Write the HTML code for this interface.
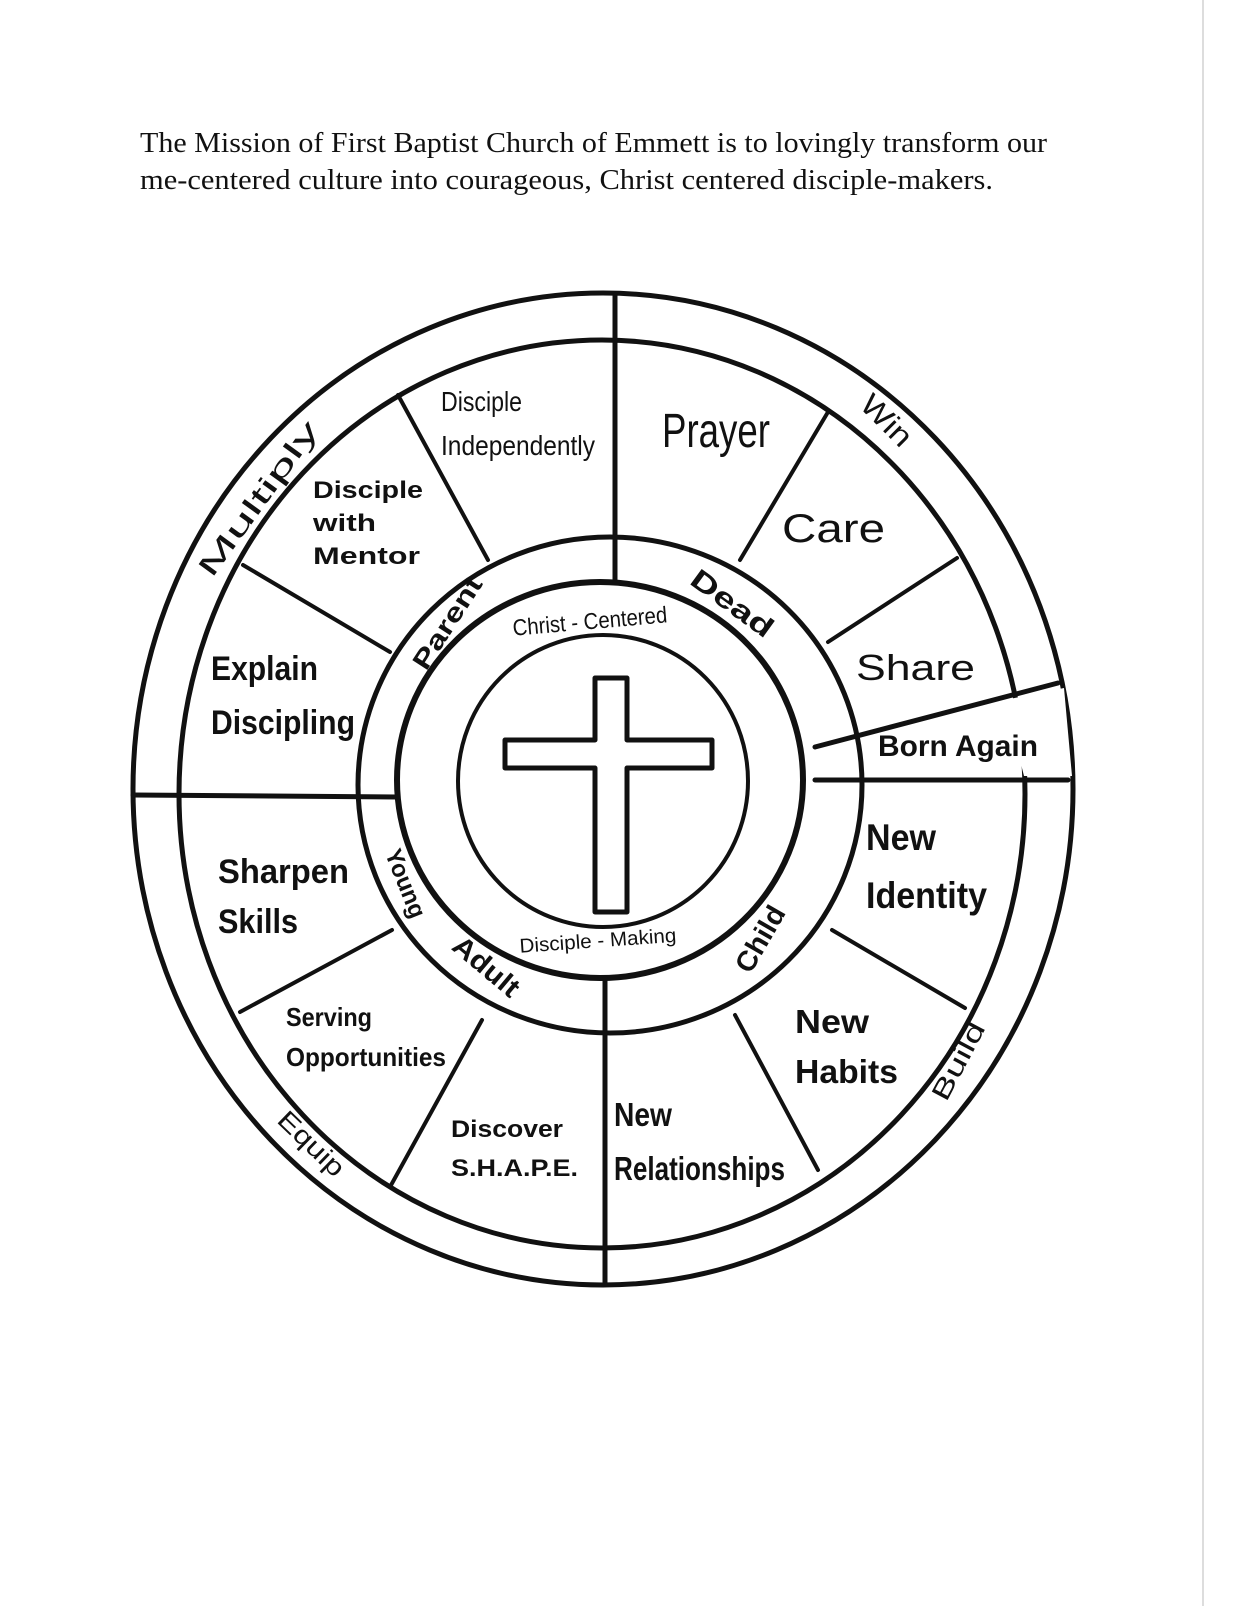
<!DOCTYPE html>
<html><head><meta charset="utf-8"><style>
html,body{margin:0;padding:0;background:#fff;}
svg{display:block;}
.h{font-family:"Liberation Serif",serif;font-size:29px;fill:#111;}
.b{font-family:"Liberation Sans",sans-serif;font-weight:bold;fill:#111;}
.n{font-family:"Liberation Sans",sans-serif;fill:#111;}
</style></head><body>
<svg width="1240" height="1606" viewBox="0 0 1240 1606" xmlns="http://www.w3.org/2000/svg">
<rect width="1240" height="1606" fill="#fff"/>
<line x1="1203" y1="0" x2="1203" y2="1606" stroke="#ddd" stroke-width="2"/>
<text class="h" x="140" y="152" textLength="907" lengthAdjust="spacingAndGlyphs">The Mission of First Baptist Church of Emmett is to lovingly transform our</text>
<text class="h" x="140" y="189" textLength="853" lengthAdjust="spacingAndGlyphs">me-centered culture into courageous, Christ centered disciple-makers.</text>

<g fill="none" stroke="#111" stroke-linecap="round">
<ellipse cx="603" cy="789" rx="470" ry="496" stroke-width="5"/>
<ellipse cx="602" cy="794" rx="423" ry="454" stroke-width="5"/>
<ellipse cx="610" cy="785" rx="252" ry="248" stroke-width="5"/>
<ellipse cx="600" cy="780" rx="203" ry="198" stroke-width="6"/>
<ellipse cx="603" cy="781" rx="145" ry="146" stroke-width="4"/>
<line x1="615" y1="295" x2="615" y2="582" stroke-width="5"/>
<line x1="605" y1="978" x2="605" y2="1284" stroke-width="5"/>
<line x1="133" y1="795" x2="397" y2="797" stroke-width="5"/>
<line x1="398" y1="395" x2="488" y2="560" stroke-width="4"/>
<line x1="243" y1="565" x2="390" y2="652" stroke-width="4"/>
<line x1="240" y1="1012" x2="392" y2="930" stroke-width="4"/>
<line x1="390" y1="1187" x2="482" y2="1020" stroke-width="4"/>
<line x1="818" y1="1170" x2="735" y2="1015" stroke-width="4"/>
<line x1="965" y1="1008" x2="832" y2="930" stroke-width="4"/>
<line x1="828" y1="412" x2="740" y2="560" stroke-width="4"/>
<line x1="957" y1="558" x2="828" y2="642" stroke-width="4"/>
</g>
<polygon points="1005,700 1064,688 1072,776 1024,776" fill="#fff"/>
<g stroke="#111" stroke-width="5" stroke-linecap="round">
<line x1="815" y1="747" x2="1058" y2="683"/>
<line x1="815" y1="780" x2="1068" y2="780"/>
</g>
<path d="M595,678 L627,678 L627,740 L712,740 L712,768 L627,768 L627,912 L595,912 L595,768 L505,768 L505,740 L595,740 Z" fill="#fff" stroke="#111" stroke-width="5" stroke-linejoin="round"/>

<g>
<text class="n" font-size="28" x="441" y="411" textLength="81" lengthAdjust="spacingAndGlyphs">Disciple</text>
<text class="n" font-size="28" x="441" y="455" textLength="154" lengthAdjust="spacingAndGlyphs">Independently</text>
<text class="n" font-size="48" x="662" y="447" textLength="108" lengthAdjust="spacingAndGlyphs">Prayer</text>
<text class="n" font-size="40" x="782" y="542" textLength="103" lengthAdjust="spacingAndGlyphs">Care</text>
<text class="n" font-size="36" x="856" y="680" textLength="119" lengthAdjust="spacingAndGlyphs">Share</text>
<text class="b" font-size="30" x="878" y="756" textLength="160" lengthAdjust="spacingAndGlyphs">Born Again</text>
<text class="b" font-size="24" x="313" y="498" textLength="110" lengthAdjust="spacingAndGlyphs">Disciple</text>
<text class="b" font-size="24" x="313" y="531" textLength="63" lengthAdjust="spacingAndGlyphs">with</text>
<text class="b" font-size="24" x="313" y="564" textLength="107" lengthAdjust="spacingAndGlyphs">Mentor</text>
<text class="b" font-size="34" x="211" y="680" textLength="107" lengthAdjust="spacingAndGlyphs">Explain</text>
<text class="b" font-size="34" x="211" y="734" textLength="144" lengthAdjust="spacingAndGlyphs">Discipling</text>
<text class="b" font-size="34" x="218" y="883" textLength="131" lengthAdjust="spacingAndGlyphs">Sharpen</text>
<text class="b" font-size="34" x="218" y="933" textLength="80" lengthAdjust="spacingAndGlyphs">Skills</text>
<text class="b" font-size="26" x="286" y="1026" textLength="86" lengthAdjust="spacingAndGlyphs">Serving</text>
<text class="b" font-size="26" x="286" y="1066" textLength="160" lengthAdjust="spacingAndGlyphs">Opportunities</text>
<text class="b" font-size="24" x="451" y="1137" textLength="112" lengthAdjust="spacingAndGlyphs">Discover</text>
<text class="b" font-size="24" x="451" y="1176" textLength="127" lengthAdjust="spacingAndGlyphs">S.H.A.P.E.</text>
<text class="b" font-size="33" x="614" y="1126" textLength="58" lengthAdjust="spacingAndGlyphs">New</text>
<text class="b" font-size="33" x="614" y="1180" textLength="171" lengthAdjust="spacingAndGlyphs">Relationships</text>
<text class="b" font-size="33" x="795" y="1033" textLength="74" lengthAdjust="spacingAndGlyphs">New</text>
<text class="b" font-size="33" x="795" y="1083" textLength="103" lengthAdjust="spacingAndGlyphs">Habits</text>
<text class="b" font-size="37" x="866" y="850" textLength="70" lengthAdjust="spacingAndGlyphs">New</text>
<text class="b" font-size="37" x="866" y="908" textLength="121" lengthAdjust="spacingAndGlyphs">Identity</text>
</g>

<g dominant-baseline="middle" text-anchor="middle">
<text class="n" font-size="28" transform="translate(260,500) rotate(-54)" textLength="185" lengthAdjust="spacingAndGlyphs">Multiply</text>
<text class="n" font-size="30" transform="translate(885,422) rotate(45)" textLength="60" lengthAdjust="spacingAndGlyphs">Win</text>
<text class="n" font-size="26" transform="translate(960,1062) rotate(-62)" textLength="85" lengthAdjust="spacingAndGlyphs">Build</text>
<text class="n" font-size="26" transform="translate(310,1145) rotate(44)" textLength="82" lengthAdjust="spacingAndGlyphs">Equip</text>

<text class="b" font-size="26" transform="translate(449,624) rotate(-57)" textLength="105" lengthAdjust="spacingAndGlyphs">Parent</text>
<text class="b" font-size="28" transform="translate(731,605) rotate(36)" textLength="95" lengthAdjust="spacingAndGlyphs">Dead</text>
<text class="b" font-size="24" transform="translate(404,884) rotate(68)" textLength="72" lengthAdjust="spacingAndGlyphs">Young</text>
<text class="b" font-size="28" transform="translate(485,968) rotate(40)" textLength="78" lengthAdjust="spacingAndGlyphs">Adult</text>
<text class="b" font-size="28" transform="translate(762,940) rotate(-60)" textLength="72" lengthAdjust="spacingAndGlyphs">Child</text>
<text class="n" font-size="23" transform="translate(590,623) rotate(-5)" textLength="155" lengthAdjust="spacingAndGlyphs">Christ - Centered</text>
<text class="n" font-size="20" transform="translate(598,942) rotate(-4)" textLength="157" lengthAdjust="spacingAndGlyphs">Disciple - Making</text>
</g>
</svg>
</body></html>
